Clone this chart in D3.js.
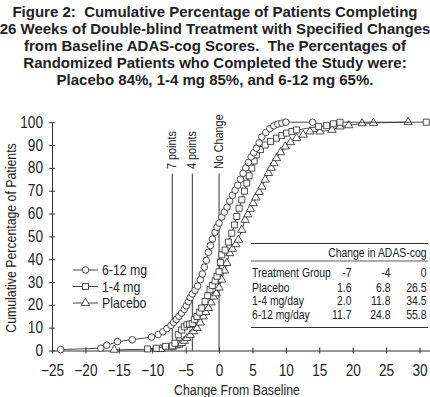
<!DOCTYPE html>
<html>
<head>
<meta charset="utf-8">
<script src="https://cdn.jsdelivr.net/npm/d3@7"></script>
<style>
  body { margin: 0; background: #fff; }
  svg { display: block; }
  .narrow { font-family: "Liberation Sans", Arial, sans-serif; fill: #222; }
  .title { font-family: "Liberation Sans", Arial, sans-serif; font-weight: bold; font-size: 15px; fill: #222; white-space: pre; }
</style>
</head>
<body>
<div id="chart"></div>
<script>
// values: [change from baseline, cumulative %]
const high = [[-23.7,0.4],[-17.7,1.0],[-16.8,2.3],[-15.2,3.9],[-13.0,4.7],[-10.1,5.9],[-9.1,7.0],[-8.4,8.2],[-7.8,9.6],
  [-7.2,11.0],[-6.8,12.3],[-6.4,13.6],[-6.0,15.0],[-5.6,16.4],[-5.2,18.0],[-4.9,19.6],[-4.6,21.4],[-4.3,23.2],[-4.0,24.8],
  [-3.6,26.4],[-3.2,28.2],[-2.8,31.0],[-2.5,33.5],[-2.2,36.5],[-1.9,39.5],[-1.6,43.0],[-1.3,46.0],[-1.0,48.8],[-0.6,51.8],
  [-0.3,54.0],[0.0,55.8],[0.4,58.4],[0.8,60.6],[1.2,62.8],[1.6,65.4],[2.0,68.0],[2.4,70.2],[2.8,72.4],[3.2,75.0],[3.6,77.6],
  [4.0,80.0],[4.4,82.4],[4.8,84.8],[5.2,86.6],[5.6,88.6],[6.0,91.0],[6.4,93.5],[7.0,95.5],[7.6,97.2],[8.2,98.4],[8.8,99.2],
  [9.4,99.6],[10.0,100],[14.0,100]];

const low = [[-10.7,0.7],[-9.4,1.0],[-8.0,1.8],[-7.0,2.0],[-6.6,3.2],[-6.1,6.9],[-5.6,9.0],[-5.2,10.4],[-4.8,11.3],[-4.4,11.6],
  [-4.0,11.8],[-3.7,13.5],[-3.3,14.9],[-2.9,16.8],[-2.6,18.6],[-2.1,21.5],[-1.7,24.0],[-1.35,26.6],[-1.0,28.5],[-0.6,30.5],
  [-0.3,32.5],[0.0,34.5],[0.2,38.5],[0.4,41.9],[0.9,44.0],[1.4,47.5],[1.9,51.4],[2.3,55.0],[2.65,58.7],[3.0,62.3],[3.4,66.0],
  [3.8,69.8],[4.15,73.3],[4.5,76.5],[4.9,79.9],[5.25,83.0],[5.6,85.7],[6.2,88.0],[6.9,90.0],[7.7,91.6],[8.6,93.0],[9.4,94.2],
  [10.1,95.2],[10.9,95.9],[11.6,96.6],[14.9,98.1],[16.1,98.5],[17.1,99.3],[18.1,100],[31.0,100]];

const placebo = [[-15.7,0.3],[-8.7,0.6],[-7.0,1.6],[-6.4,2.2],[-6.0,2.6],[-5.6,3.2],[-5.2,4.2],[-4.8,5.4],[-4.3,6.8],[-3.8,8.4],
  [-3.3,9.8],[-2.8,12.2],[-2.35,14.9],[-2.0,16.8],[-1.6,18.6],[-1.2,21.0],[-0.85,23.6],[-0.4,25.0],[0.0,27.5],[0.4,31.0],
  [0.8,35.0],[1.15,38.3],[1.6,42.6],[2.0,44.5],[2.5,46.5],[2.9,48.5],[3.4,52.8],[3.9,57.2],[4.3,59.6],[4.7,62.0],[5.1,64.5],
  [5.5,67.0],[6.0,69.4],[6.4,71.8],[6.9,74.8],[7.4,77.7],[7.8,80.0],[8.2,82.0],[8.6,84.2],[9.2,86.8],[9.9,89.3],[10.7,91.2],
  [11.6,93.0],[12.6,94.5],[13.6,95.9],[15.1,95.9],[16.9,96.6],[18.1,98.1],[19.4,98.6],[21.4,99.5],[23.1,99.7],[28.3,100]];

const seriesNames = ["6-12 mg", "1-4 mg", "Placebo"];
const refLines = [-7, -4, 0];
const refLabels = ["7 points", "4 points", "No Change"];
const xTicks = [-25, -20, -15, -10, -5, 0, 5, 10, 15, 20, 25, 30];
const yTicks = [0, 10, 20, 30, 40, 50, 60, 70, 80, 90, 100];

const tableCols = ["-7", "-4", "0"];
const tableRows = ["Placebo", "1-4 mg/day", "6-12 mg/day"];
const tableVals = [["1.6", "6.8", "26.5"], ["2.0", "11.8", "34.5"], ["11.7", "24.8", "55.8"]];

const titleLines = [
  "Figure 2:  Cumulative Percentage of Patients Completing",
  "26 Weeks of Double-blind Treatment with Specified Changes",
  "from Baseline ADAS-cog Scores.  The Percentages of",
  "Randomized Patients who Completed the Study were:",
  "Placebo 84%, 1-4 mg 85%, and 6-12 mg 65%."
];

// no condensed face is installed, so squeeze the regular one
function squeeze(sel, f) {
  sel.each(function() {
    const w = this.getComputedTextLength();
    d3.select(this).attr("textLength", w * f).attr("lengthAdjust", "spacingAndGlyphs");
  });
}

const W = 430, H = 397;
const svg = d3.select("#chart").append("svg").attr("width", W).attr("height", H);

svg.selectAll(".title").data(titleLines).enter().append("text")
  .attr("class", "title")
  .attr("x", 215).attr("y", (d, i) => 17 + i * 17)
  .attr("text-anchor", "middle")
  .text(d => d);

const x = d3.scaleLinear().domain([-25, 31.6]).range([52, 430.2]);
const y = d3.scaleLinear().domain([0, 100]).range([350.5, 122.2]);

// axes
const xAxis = d3.axisBottom(x).tickValues(xTicks).tickSizeOuter(0).tickPadding(8);
const yAxis = d3.axisLeft(y).tickValues(yTicks).tickSizeOuter(0).tickPadding(3);

const gx = svg.append("g").attr("transform", `translate(0,${y(0)})`).call(xAxis);
const gy = svg.append("g").attr("transform", `translate(${x(-25)},0)`).call(yAxis);

[gx, gy].forEach(g => {
  g.select(".domain").attr("stroke", "#333");
  g.selectAll(".tick text").attr("class", "narrow").style("font-size", "16px").attr("fill", "#222")
    .call(squeeze, 0.85);
});
gx.selectAll(".tick line").attr("y1", -3).attr("y2", 3).attr("stroke", "#333");
gy.selectAll(".tick line").attr("x1", -3).attr("x2", 3).attr("stroke", "#333");

svg.append("text").attr("class", "narrow")
  .attr("x", 237).attr("y", 395).attr("text-anchor", "middle")
  .style("font-size", "15px").text("Change From Baseline")
  .call(squeeze, 0.82);

svg.append("text").attr("class", "narrow")
  .attr("transform", `translate(16,238) rotate(-90)`)
  .attr("text-anchor", "middle")
  .style("font-size", "15px").text("Cumulative Percentage of Patients")
  .call(squeeze, 0.82);

// reference lines
svg.selectAll(".ref").data(refLines).enter().append("line")
  .attr("x1", d => x(d)).attr("x2", d => x(d))
  .attr("y1", y(0)).attr("y2", y(77.5))
  .attr("stroke", "#333").attr("stroke-width", 1);

svg.selectAll(".reflab").data(refLines).enter().append("text")
  .attr("class", "narrow")
  .attr("transform", d => `translate(${x(d) + 4},${y(79.5)}) rotate(-90)`)
  .style("font-size", "13.5px")
  .text((d, i) => refLabels[i])
  .call(squeeze, 0.8);

// curves
const shapes = [d3.symbolCircle, d3.symbolSquare, d3.symbolTriangle];
const sizes = [34, 36, 30];
const allSeries = [high, low, placebo];
const line = d3.line().x(d => x(d[0])).y(d => y(d[1]));

// draw placebo first so the 6-12 curve sits on top
[2, 1, 0].forEach(i => {
  const s = allSeries[i];
  svg.append("path").datum(s)
    .attr("fill", "none").attr("stroke", "#333").attr("stroke-width", 0.9)
    .attr("d", line);
  svg.selectAll(".m" + i).data(s).enter().append("path")
    .attr("transform", d => `translate(${x(d[0])},${y(d[1])})`)
    .attr("d", d3.symbol().type(shapes[i]).size(sizes[i]))
    .attr("fill", "#fff").attr("stroke", "#222").attr("stroke-width", 0.8);
});

// legend
const legend = svg.append("g");
seriesNames.forEach((name, i) => {
  const ly = 270 + i * 16.5;
  legend.append("line").attr("x1", 73).attr("x2", 98).attr("y1", ly).attr("y2", ly)
    .attr("stroke", "#333").attr("stroke-width", 0.9);
  legend.append("path").attr("transform", `translate(85.5,${ly})`)
    .attr("d", d3.symbol().type(shapes[i]).size(sizes[i]))
    .attr("fill", "#fff").attr("stroke", "#222").attr("stroke-width", 0.8);
  legend.append("text").attr("class", "narrow")
    .attr("x", 102).attr("y", ly).attr("dy", "0.36em")
    .style("font-size", "15px").text(name)
    .call(squeeze, 0.82);
});

// table of values at -7, -4, 0
const table = svg.append("g");
const colX = [351.5, 390.5, 426.5];
const cell = (tx, ty, txt, anchor) => table.append("text").attr("class", "narrow")
  .attr("x", tx).attr("y", ty).attr("text-anchor", anchor || "start")
  .style("font-size", "13px").text(txt).call(squeeze, 0.8);

table.append("line").attr("x1", 251).attr("x2", 428).attr("y1", 243.5).attr("y2", 243.5).attr("stroke", "#333");
cell(426.5, 257, "Change in ADAS-cog", "end");
table.append("line").attr("x1", 251).attr("x2", 428).attr("y1", 261).attr("y2", 261).attr("stroke", "#333").attr("stroke-width", 0.8);
cell(252, 277, "Treatment Group");
tableCols.forEach((c, j) => cell(colX[j], 277, c, "end"));
tableRows.forEach((r, i) => {
  const ry = 291.5 + i * 13.5;
  cell(252, ry, r);
  tableVals[i].forEach((v, j) => cell(colX[j], ry, v, "end"));
});
table.append("line").attr("x1", 251).attr("x2", 428).attr("y1", 327.5).attr("y2", 327.5).attr("stroke", "#333");
</script>
</body>
</html>
